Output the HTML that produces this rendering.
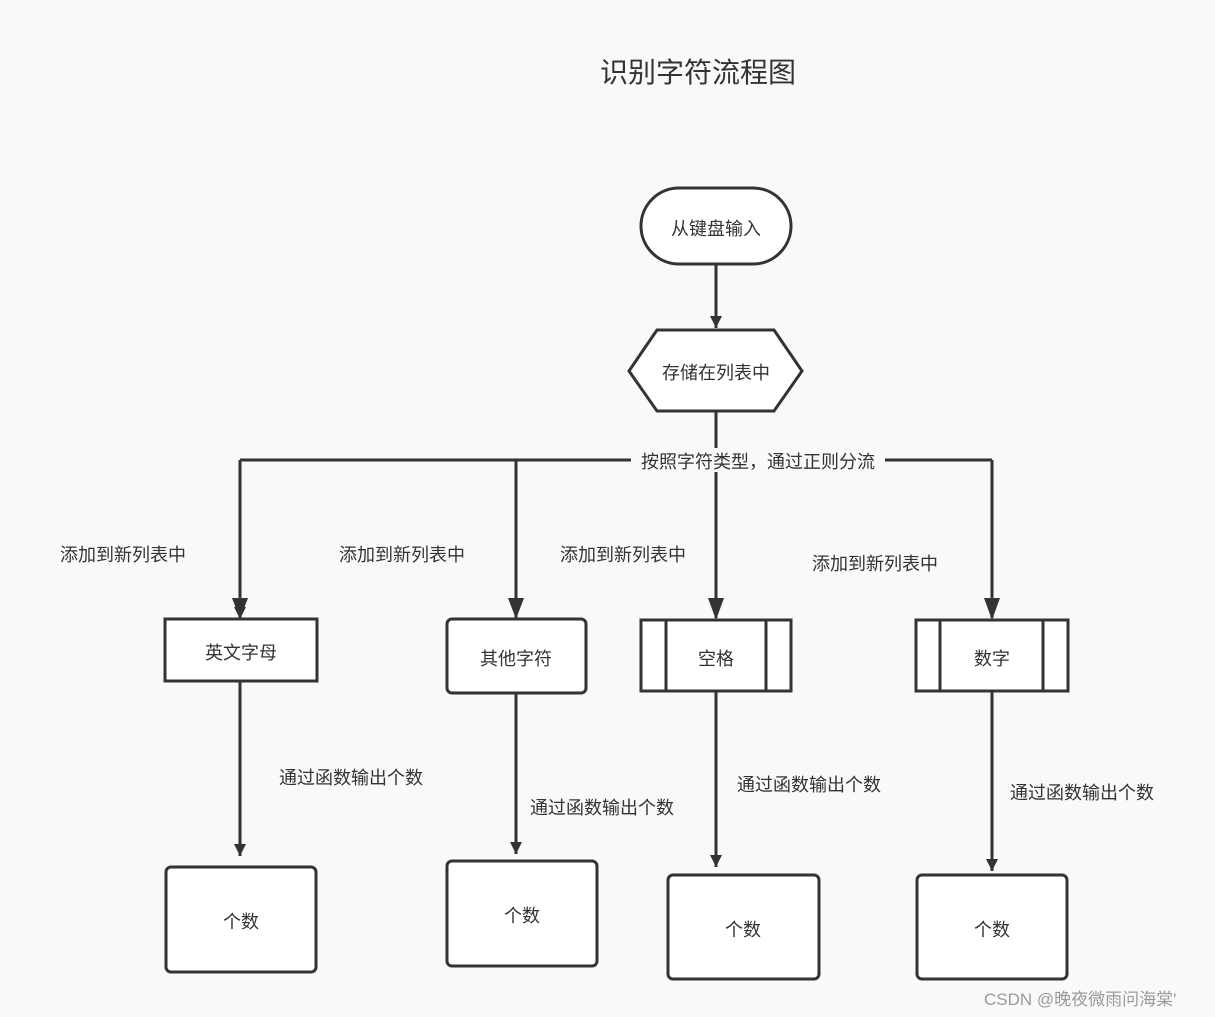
<!DOCTYPE html>
<html><head><meta charset="utf-8"><style>
html,body{margin:0;padding:0;background:#f9f9f9;}
svg{display:block;}
text{font-family:"Liberation Sans","Noto Sans CJK SC",sans-serif;fill:#333;}
</style></head><body>
<svg width="1215" height="1017" viewBox="0 0 1215 1017" xmlns="http://www.w3.org/2000/svg">
<defs><marker id="a" viewBox="0 0 10 10" refX="10" refY="5" markerWidth="4" markerHeight="5.5" orient="auto" markerUnits="strokeWidth"><path d="M0,0L10,5L0,10z" fill="#333"/></marker></defs>
<rect width="1215" height="1017" fill="#f9f9f9"/>
<text x="698" y="82" font-size="28" text-anchor="middle">识别字符流程图</text>
<g stroke="#333" stroke-width="3" fill="none">
<path d="M716 264V328" marker-end="url(#a)"/>
<path d="M716 411V460M240 460H992M240 460V618M516 460V618M716 460V618M992 460V618" />
<path d="M240 618V619" marker-end="url(#a)"/>
<path d="M240 681V856" marker-end="url(#a)"/>
<path d="M516 693V854" marker-end="url(#a)"/>
<path d="M716 691V867" marker-end="url(#a)"/>
<path d="M992 691V871" marker-end="url(#a)"/>
</g>
<g fill="#333">
<path d="M232 598L248 598L240 619z"/><path d="M508 598L524 598L516 619z"/><path d="M708 598L724 598L716 620z"/><path d="M984 598L1000 598L992 620z"/>
</g>
<g stroke="#333" stroke-width="3" fill="#fff">
<rect x="641" y="188" width="150" height="76" rx="38"/>
<polygon points="629,371 657,330 774,330 802,371 774,411 657,411"/>
<rect x="165" y="619" width="152" height="62"/>
<rect x="447" y="619" width="139" height="74" rx="5"/>
<rect x="641" y="620" width="150" height="71"/>
<rect x="916" y="620" width="152" height="71"/>
<rect x="166" y="867" width="150" height="105" rx="5"/>
<rect x="447" y="861" width="150" height="105" rx="5"/>
<rect x="668" y="875" width="151" height="104" rx="5"/>
<rect x="917" y="875" width="150" height="104" rx="5"/>
</g>
<path d="M666 620V691M766 620V691M940 620V691M1043 620V691" stroke="#333" stroke-width="3"/>
<rect x="631" y="448" width="254" height="24" fill="#f9f9f9"/>
<g font-size="18" text-anchor="middle">
<text x="716" y="235">从键盘输入</text>
<text x="716" y="379">存储在列表中</text>
<text x="758" y="468">按照字符类型，通过正则分流</text>
<text x="241" y="659">英文字母</text>
<text x="516" y="665">其他字符</text>
<text x="716" y="665">空格</text>
<text x="992" y="665">数字</text>
<text x="241" y="928">个数</text>
<text x="522" y="922">个数</text>
<text x="743" y="936">个数</text>
<text x="992" y="936">个数</text>
</g>
<g font-size="18">
<text x="60" y="561">添加到新列表中</text>
<text x="339" y="561">添加到新列表中</text>
<text x="560" y="561">添加到新列表中</text>
<text x="812" y="570">添加到新列表中</text>
<text x="279" y="784">通过函数输出个数</text>
<text x="530" y="814">通过函数输出个数</text>
<text x="737" y="791">通过函数输出个数</text>
<text x="1010" y="799">通过函数输出个数</text>
</g>
<text x="984" y="1005" font-size="17" style="fill:#9a9a9a">CSDN @晚夜微雨问海棠'</text>
</svg>
</body></html>
